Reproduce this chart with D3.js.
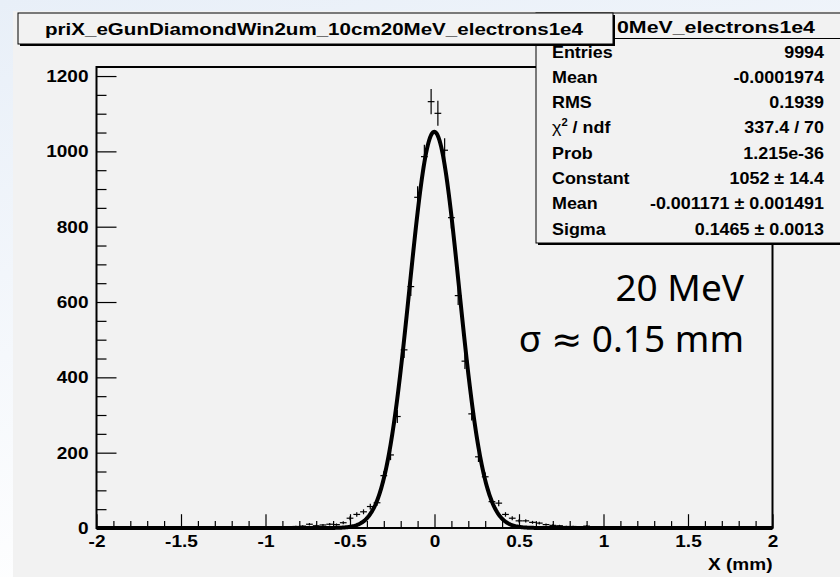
<!DOCTYPE html>
<html><head><meta charset="utf-8">
<script src="https://cdn.jsdelivr.net/npm/d3@7"></script>
<style>body{margin:0;background:#fff;} svg{display:block;}</style>
</head><body>
<svg id="c" width="840" height="577"></svg>
<script>
// ---------- data ----------
const histTitle = "priX_eGunDiamondWin2um_10cm20MeV_electrons1e4";
const statHeaderVisible = "0MeV_electrons1e4";
const xRange = [-2, 2];
const binWidth = 0.04;
// bin contents, 100 bins from -2 to 2 (centres -1.98 ... 1.98)
const counts = [
  0,0,0,0,0,0,0,0,0,0,
  0,0,0,1,0,0,0,1,0,0,
  1,0,1,1,2,3,2,3,3,4,
  5,10,6,8,10,9,14,26,36,43,
  57,67,139,194,296,473,641,878,986,1132,
  1101,1003,824,617,443,303,189,136,70,66,
  36,26,19,19,15,13,9,7,6,4,
  4,3,5,3,2,1,1,2,0,1,
  0,1,0,0,0,0,0,0,0,0,
  0,0,0,0,0,0,0,0,0,0
];
const fitConstant = [1052];
const fitMean = [-0.001171];
const fitSigma = [0.1465];
const yTicks = [0, 200, 400, 600, 800, 1000, 1200];
const xTicks = [-2, -1.5, -1, -0.5, 0, 0.5, 1, 1.5, 2];
const statLabels = ["Entries", "Mean", "RMS", "χ2 / ndf", "Prob", "Constant", "Mean", "Sigma"];
const statValues = ["9994", "-0.0001974", "0.1939", "337.4 / 70", "1.215e-36", "1052 ± 14.4", "-0.001171 ± 0.001491", "0.1465 ± 0.0013"];
const xTitle = "X (mm)";
const noteLines = ["20 MeV", "σ ≈ 0.15 mm"];

// ---------- drawing ----------
const svg = d3.select("#c");
const FONT = "'Liberation Sans', Arial, Helvetica, sans-serif";
const SX = 1.12;
const defs = svg.append("defs");
const grad = defs.append("linearGradient").attr("id", "bg").attr("x1", 0).attr("y1", 0).attr("x2", 0.3).attr("y2", 1);
grad.append("stop").attr("offset", "0%").attr("stop-color", "#e8eff8");
grad.append("stop").attr("offset", "100%").attr("stop-color", "#ffffff");
svg.append("rect").attr("width", 840).attr("height", 577).attr("fill", "url(#bg)");
svg.append("rect").attr("x", 13).attr("y", 11).attr("width", 827).attr("height", 566).attr("fill", "#f2f2f2");

const fr = {l: 96.5, r: 772.5, t: 67, b: 528};
const x = d3.scaleLinear().domain(xRange).range([fr.l, fr.r]);
const y = d3.scaleLinear().domain([0, 1224]).range([fr.b, fr.t]);

function txt(g, px, py, s, o) {
  o = o || {};
  return g.append("text")
    .attr("transform", `translate(${px},${py}) scale(${o.sx || SX},1)`)
    .attr("text-anchor", o.anchor || "start")
    .attr("font-family", o.family || FONT)
    .attr("font-weight", o.weight || "bold")
    .attr("font-size", o.size || 16)
    .attr("fill", "#000")
    .text(s);
}

// frame fill
svg.append("rect").attr("x", fr.l).attr("y", fr.t).attr("width", fr.r - fr.l).attr("height", fr.b - fr.t).attr("fill", "#f2f2f2");

// y axis
const yMinor = d3.range(0, 1201, 50).filter(v => v % 200 !== 0);
const yAxMinor = svg.append("g").attr("transform", `translate(${fr.l},0)`)
  .call(d3.axisLeft(y).tickValues(yMinor).tickSize(-10).tickFormat(""));
const yAx = svg.append("g").attr("transform", `translate(${fr.l},0)`)
  .call(d3.axisLeft(y).tickValues(yTicks).tickSize(-20).tickPadding(8).tickFormat(d => String(d)));
[yAx, yAxMinor].forEach(g => { g.select(".domain").remove(); g.selectAll("line").attr("stroke", "#000").attr("stroke-width", 1.2); });
yAx.selectAll("text").attr("font-family", FONT).attr("font-weight", "bold").attr("font-size", 17).attr("fill", "#000")
  .attr("transform", `scale(${SX},1)`).attr("x", -8 / SX);

// x axis
const xMinor = d3.range(-20, 21).map(v => v / 10).filter(v => Math.abs(v * 2 - Math.round(v * 2)) > 1e-6);
const xAxMinor = svg.append("g").attr("transform", `translate(0,${fr.b})`)
  .call(d3.axisBottom(x).tickValues(xMinor).tickSize(-6.9).tickFormat(""));
const xAx = svg.append("g").attr("transform", `translate(0,${fr.b})`)
  .call(d3.axisBottom(x).tickValues(xTicks).tickSize(-13.8).tickPadding(7).tickFormat(d => String(d)));
[xAx, xAxMinor].forEach(g => { g.select(".domain").remove(); g.selectAll("line").attr("stroke", "#000").attr("stroke-width", 1.2); });
xAx.selectAll("text").attr("font-family", FONT).attr("font-weight", "bold").attr("font-size", 17).attr("fill", "#000")
  .attr("transform", `scale(${SX},1)`);

// histogram points with errors
const bins = counts.map((n, i) => ({c: xRange[0] + binWidth * (i + 0.5), n: n})).filter(d => d.n > 0);
const pts = svg.append("g").attr("stroke", "#000").attr("stroke-width", 1.2);
bins.forEach(d => {
  const e = Math.sqrt(d.n);
  pts.append("line").attr("x1", x(d.c - binWidth / 2)).attr("x2", x(d.c + binWidth / 2)).attr("y1", y(d.n)).attr("y2", y(d.n));
  pts.append("line").attr("x1", x(d.c)).attr("x2", x(d.c)).attr("y1", y(Math.max(0, d.n - e))).attr("y2", y(d.n + e));
});

// fit curve
const xs = d3.range(0, 801).map(i => xRange[0] + (xRange[1] - xRange[0]) * i / 800);
const gauss = v => fitConstant[0] * Math.exp(-0.5 * Math.pow((v - fitMean[0]) / fitSigma[0], 2));
svg.append("path").datum(xs)
  .attr("d", d3.line().x(v => x(v)).y(v => y(gauss(v))).curve(d3.curveLinear))
  .attr("fill", "none").attr("stroke", "#000").attr("stroke-width", 4).attr("stroke-linejoin", "round");

// frame
svg.append("rect").attr("x", fr.l).attr("y", fr.t).attr("width", fr.r - fr.l).attr("height", fr.b - fr.t)
  .attr("fill", "none").attr("stroke", "#000").attr("stroke-width", 2);

// x title
txt(svg, fr.r, 570, xTitle, {anchor: "end", size: 17});

// stats box
svg.append("rect").attr("x", 538).attr("y", 15).attr("width", 310).attr("height", 230).attr("fill", "#000");
svg.append("rect").attr("x", 536).attr("y", 13).attr("width", 310).attr("height", 230).attr("fill", "#f2f2f2").attr("stroke", "#000").attr("stroke-width", 1);
svg.append("line").attr("x1", 536).attr("x2", 840).attr("y1", 38.5).attr("y2", 38.5).attr("stroke", "#000").attr("stroke-width", 1);
svg.append("text").attr("x", 815).attr("y", 33).attr("text-anchor", "end")
  .attr("font-family", FONT).attr("font-weight", "bold").attr("font-size", 17).attr("textLength", 198).attr("lengthAdjust", "spacingAndGlyphs").text(statHeaderVisible);
statLabels.forEach((s, i) => {
  const by = 57.5 + i * 25.3;
  if (s.startsWith("χ2")) {
    const t = txt(svg, 552, by, "", {size: 16});
    t.append("tspan").attr("font-weight", "normal").text("χ");
    t.append("tspan").attr("font-size", 10).attr("dy", -7).text("2");
    t.append("tspan").attr("dy", 7).text(" / ndf");
  } else {
    txt(svg, 552, by, s, {size: 16});
  }
  txt(svg, 824, by, statValues[i], {anchor: "end", size: 16});
});

// title box
svg.append("rect").attr("x", 20).attr("y", 15).attr("width", 595).attr("height", 31).attr("fill", "#000");
svg.append("rect").attr("x", 18).attr("y", 13).attr("width", 595).attr("height", 31).attr("fill", "#f2f2f2").attr("stroke", "#000").attr("stroke-width", 1);
svg.append("text").attr("x", 314).attr("y", 35).attr("text-anchor", "middle")
  .attr("font-family", FONT).attr("font-weight", "bold").attr("font-size", 17).attr("textLength", 538).attr("lengthAdjust", "spacingAndGlyphs").text(histTitle);

// annotation
noteLines.forEach((s, i) => {
  svg.append("text").attr("x", 744).attr("y", 301 + i * 51).attr("text-anchor", "end")
    .attr("font-family", "'Noto Sans', 'DejaVu Sans', sans-serif").attr("font-size", 37).attr("fill", "#000").text(s);
});
</script>
</body></html>
